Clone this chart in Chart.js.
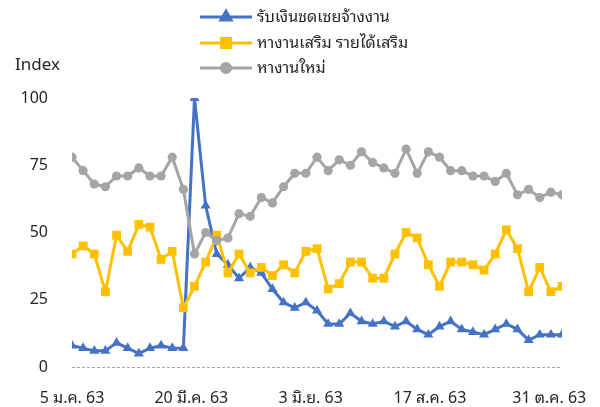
<!DOCTYPE html>
<html>
<head>
<meta charset="utf-8">
<script src="https://cdn.jsdelivr.net/npm/chart.js@4"></script>
<style>
    html, body { margin: 0; padding: 0; background: #fff; }
    #wrap { width: 600px; height: 407px; }
</style>
</head>
<body>
<div id="wrap"><canvas id="jobChart" width="600" height="407"></canvas></div>
<script>
const weekDates = [
    "2020-01-05", "2020-01-12", "2020-01-19", "2020-01-26", "2020-02-02", "2020-02-09",
    "2020-02-16", "2020-02-23", "2020-03-01", "2020-03-08", "2020-03-15", "2020-03-22",
    "2020-03-29", "2020-04-05", "2020-04-12", "2020-04-19", "2020-04-26", "2020-05-03",
    "2020-05-10", "2020-05-17", "2020-05-24", "2020-05-31", "2020-06-07", "2020-06-14",
    "2020-06-21", "2020-06-28", "2020-07-05", "2020-07-12", "2020-07-19", "2020-07-26",
    "2020-08-02", "2020-08-09", "2020-08-16", "2020-08-23", "2020-08-30", "2020-09-06",
    "2020-09-13", "2020-09-20", "2020-09-27", "2020-10-04", "2020-10-11", "2020-10-18",
    "2020-10-25", "2020-11-01", "2020-11-08",
];

const seriesNames = ["รับเงินชดเชยจ้างงาน", "หางานเสริม รายได้เสริม", "หางานใหม่"];

const compensation = [8, 7, 6, 6, 9, 7, 5, 7, 8, 7, 7, 100, 60, 42, 38, 33, 37, 35, 29, 24,
    22, 24, 21, 16, 16, 20, 17, 16, 17, 15, 17, 14, 12, 15, 17, 14, 13, 12, 14, 16,
    14, 10, 12, 12, 12];
const sideJob = [42, 45, 42, 28, 49, 43, 53, 52, 40, 43, 22, 30, 39, 49, 35, 42, 35, 37, 34, 38,
    35, 43, 44, 29, 31, 39, 39, 33, 33, 42, 50, 48, 38, 30, 39, 39, 38, 36, 42, 51,
    44, 28, 37, 28, 30];
const newJob = [78, 73, 68, 67, 71, 71, 74, 71, 71, 78, 66, 42, 50, 47, 48, 57, 56, 63, 61, 67,
    72, 72, 78, 73, 77, 75, 80, 76, 74, 72, 81, 72, 80, 78, 73, 73, 71, 71, 69, 72,
    64, 66, 63, 65, 64];

const tickDays = [0, 75, 150, 225, 300];
const tickLabels = ["5 ม.ค. 63", "20 มี.ค. 63", "3 มิ.ย. 63", "17 ส.ค. 63", "31 ต.ค. 63"];
const yTicks = [0, 25, 50, 75, 100];

const colors = ["#4472C4", "#FFC000", "#A5A5A5"];
const markers = ["triangle", "rect", "circle"];
const markerSizes = [5.8, 6.2, 4.6];

const FONT = "'Leelawadee UI', Tahoma, 'Noto Sans Thai Looped', Loma, Garuda, 'Noto Sans', 'DejaVu Sans', sans-serif";
const TEXT_COLOR = "#262626";

// day offset of each week from the first date
const dayMs = 24 * 3600 * 1000;
const startMs = Date.parse(weekDates[0]);
const xDays = weekDates.map((d) => Math.round((Date.parse(d) - startMs) / dayMs));
const lastDay = xDays[xDays.length - 1];

function toPoints(values) {
    return values.map((v, i) => ({ x: xDays[i], y: v }));
}

const allSeries = [compensation, sideJob, newJob];

// dashed zero line, legend and the "Index" label
const extrasPlugin = {
    id: "extras",
    beforeDatasetsDraw(chart) {
        const ctx = chart.ctx;
        const area = chart.chartArea;
        const y0 = Math.round(chart.scales.y.getPixelForValue(0)) + 0.5;
        ctx.save();
        ctx.strokeStyle = "#A6A6A6";
        ctx.lineWidth = 1;
        ctx.setLineDash([3, 2]);
        ctx.beginPath();
        ctx.moveTo(area.left, y0);
        ctx.lineTo(area.right, y0);
        ctx.stroke();
        ctx.restore();
    },
    afterDraw(chart) {
        const ctx = chart.ctx;
        ctx.save();
        ctx.textBaseline = "middle";
        ctx.textAlign = "left";
        ctx.fillStyle = TEXT_COLOR;
        ctx.font = "17px " + FONT;
        ctx.fillText("Index", 15, 65);

        ctx.font = "16px " + FONT;
        const rowsY = [17, 43, 68];
        chart.data.datasets.forEach((ds, i) => {
            const y = rowsY[i];
            ctx.strokeStyle = ds.borderColor;
            ctx.lineWidth = 3;
            ctx.beginPath();
            ctx.moveTo(200, y);
            ctx.lineTo(252, y);
            ctx.stroke();
            Chart.helpers.drawPoint(ctx, {
                pointStyle: ds.pointStyle,
                radius: ds.pointRadius,
                rotation: 0,
                borderWidth: 1,
            }, 226, y);
            ctx.fillStyle = ds.backgroundColor;
            ctx.fill();
            ctx.fillStyle = TEXT_COLOR;
            ctx.fillText(ds.label, 257, y);
        });
        ctx.restore();
    },
};

const ctx = document.getElementById("jobChart").getContext("2d");

new Chart(ctx, {
    type: "line",
    data: {
        datasets: allSeries.map((values, i) => ({
            label: seriesNames[i],
            data: toPoints(values),
            borderColor: colors[i],
            backgroundColor: colors[i],
            borderWidth: 3,
            pointStyle: markers[i],
            pointRadius: markerSizes[i],
            pointHoverRadius: markerSizes[i],
            pointBorderWidth: 0,
            tension: 0,
            order: 2 - i,
        })),
    },
    options: {
        responsive: false,
        animation: false,
        layout: {
            padding: { top: 98, right: 38, bottom: 0, left: 0 },
        },
        plugins: {
            legend: { display: false },
            tooltip: { enabled: false },
        },
        scales: {
            x: {
                type: "linear",
                min: 0,
                max: lastDay,
                afterBuildTicks: (scale) => {
                    scale.ticks = tickDays.map((v) => ({ value: v }));
                },
                afterFit: (scale) => {
                    scale.height = 40;
                },
                ticks: {
                    autoSkip: false,
                    maxRotation: 0,
                    padding: 12,
                    color: TEXT_COLOR,
                    font: { family: FONT, size: 16, lineHeight: 2.4 },
                    callback: function (value) {
                        const idx = tickDays.indexOf(value);
                        return idx >= 0 ? tickLabels[idx] : "";
                    },
                },
                grid: { display: false, drawTicks: false },
                border: { display: false },
            },
            y: {
                min: 0,
                max: 100,
                afterBuildTicks: (scale) => {
                    scale.ticks = yTicks.map((v) => ({ value: v }));
                },
                afterFit: (scale) => {
                    scale.width = 72;
                },
                ticks: {
                    padding: 24,
                    color: TEXT_COLOR,
                    font: { family: FONT, size: 16 },
                },
                grid: { display: false, drawTicks: false },
                border: { display: false },
            },
        },
    },
    plugins: [extrasPlugin],
});
</script>
</body>
</html>
